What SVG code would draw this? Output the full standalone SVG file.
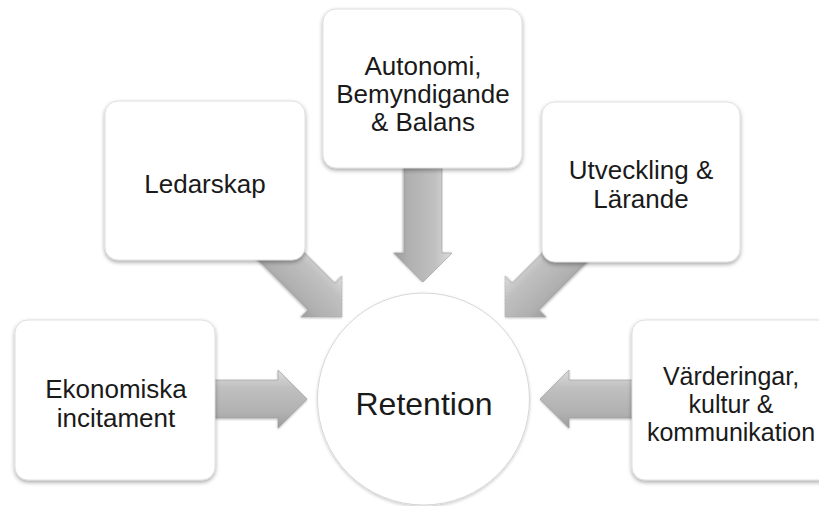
<svg xmlns="http://www.w3.org/2000/svg" xmlns:xlink="http://www.w3.org/1999/xlink" width="819" height="506" viewBox="0 0 819 506">
  <style>
    .box { fill: #ffffff; stroke: #d8d8d8; stroke-width: 0.8; filter: url(#shadow); }
    .hub { fill: #ffffff; stroke: #d6d6d6; stroke-width: 1; filter: url(#softshadow); }
    .lbl { font-family: "Liberation Sans", Arial, sans-serif; font-size: 26px; fill: #1a1a1a; text-anchor: middle; }
    .lbl.tight { font-size: 25px; }
    .hubl { font-family: "Liberation Sans", Arial, sans-serif; font-size: 32px; fill: #1a1a1a; text-anchor: middle; }
    .arr { fill: url(#arrowGrad); stroke: #999999; stroke-width: 0.6; filter: url(#arrowshadow); }
  </style>
  <defs>
    <linearGradient id="arrowGrad" x1="0" y1="0" x2="0" y2="1">
      <stop offset="0" stop-color="#dcdcdc"/>
      <stop offset="0.3" stop-color="#c0c0c0"/>
      <stop offset="0.75" stop-color="#b0b0b0"/>
      <stop offset="1" stop-color="#9c9c9c"/>
    </linearGradient>
    <filter id="shadow" x="-10%" y="-10%" width="120%" height="125%">
      <feDropShadow dx="0" dy="2" stdDeviation="2" flood-color="#000" flood-opacity="0.35"/>
    </filter>
    <filter id="softshadow" x="-10%" y="-10%" width="120%" height="125%">
      <feDropShadow dx="0" dy="1.5" stdDeviation="1.5" flood-color="#000" flood-opacity="0.2"/>
    </filter>
    <filter id="arrowshadow" x="-10%" y="-20%" width="120%" height="140%">
      <feDropShadow dx="0" dy="1" stdDeviation="1" flood-color="#000" flood-opacity="0.3"/>
    </filter>
    <path id="arrow" d="M0,0 L-29,-29 L-29,-19 L-114,-19 L-114,19 L-29,19 L-29,29 Z"/>
  </defs>

  <rect width="819" height="506" fill="#ffffff"/>

  <g id="connectors">
    <use xlink:href="#arrow" class="arr" transform="translate(307,399)"/>
    <use xlink:href="#arrow" class="arr" transform="translate(342,317) rotate(45)"/>
    <use xlink:href="#arrow" class="arr" transform="translate(423,282) rotate(90)"/>
    <use xlink:href="#arrow" class="arr" transform="translate(505,317) scale(-1,1) rotate(45)"/>
    <use xlink:href="#arrow" class="arr" transform="translate(540,399) scale(-1,1)"/>
  </g>

  <g id="node-ekonomiska">
    <rect class="box" x="15" y="320" width="200" height="160" rx="13"/>
    <text class="lbl" x="116" y="398">Ekonomiska</text>
    <text class="lbl" x="116" y="427">incitament</text>
  </g>

  <g id="node-ledarskap">
    <rect class="box" x="105" y="101" width="200" height="159" rx="13"/>
    <text class="lbl" x="205" y="193">Ledarskap</text>
  </g>

  <g id="node-autonomi">
    <rect class="box" x="323" y="9" width="199" height="159" rx="13"/>
    <text class="lbl" x="423" y="75">Autonomi,</text>
    <text class="lbl" x="423" y="103">Bemyndigande</text>
    <text class="lbl" x="423" y="131">&amp; Balans</text>
  </g>

  <g id="node-utveckling">
    <rect class="box" x="542" y="102" width="198" height="160" rx="13"/>
    <text class="lbl" x="641" y="179">Utveckling &amp;</text>
    <text class="lbl" x="641" y="208">Lärande</text>
  </g>

  <g id="node-varderingar">
    <rect class="box" x="632" y="320" width="200" height="160" rx="13"/>
    <text class="lbl tight" x="731" y="385">Värderingar,</text>
    <text class="lbl tight" x="731" y="413">kultur &amp;</text>
    <text class="lbl tight" x="731" y="441">kommunikation</text>
  </g>

  <g id="node-retention">
    <circle class="hub" cx="423.5" cy="399" r="106"/>
    <text class="hubl" x="424" y="415">Retention</text>
  </g>
</svg>
